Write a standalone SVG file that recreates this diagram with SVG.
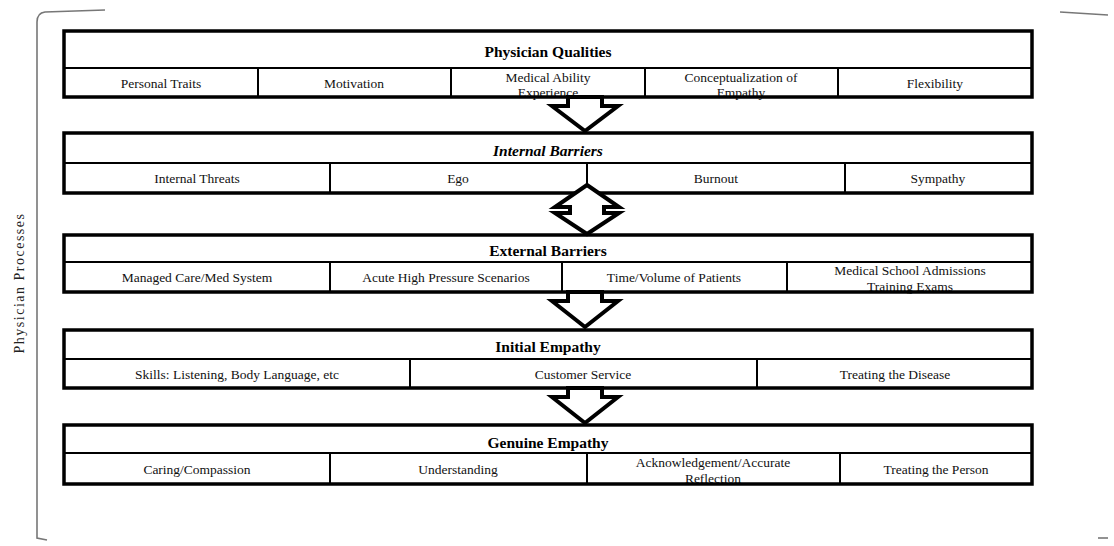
<svg xmlns="http://www.w3.org/2000/svg" width="1114" height="546" viewBox="0 0 1114 546">
  <style>
    .bg { fill: #fff; }
    .frame { fill: none; stroke: #000; stroke-width: 3.5; }
    .rule { stroke: #000; stroke-width: 2; fill: none; }
    .title { font-family: "Liberation Serif", serif; font-size: 15.5px; font-weight: bold; text-anchor: middle; fill: #000; }
    .item { font-family: "Liberation Serif", serif; font-size: 13.5px; text-anchor: middle; fill: #111; }
    .arrow { fill: #fff; stroke: #000; stroke-width: 4; stroke-linejoin: miter; }
    .bracket { fill: none; stroke: #777; stroke-width: 1.6; }
    .side { font-family: "Liberation Serif", serif; font-size: 14px; letter-spacing: 1.5px; text-anchor: middle; fill: #222; }
  </style>

  <rect width="1114" height="546" fill="#fff"/>

  <!-- outer bracket and side label -->
  <g id="processes">
    <path class="bracket" d="M105,10 L45,12 Q37,13 37,22 L37,538 L47,540"/>
    <path class="bracket" d="M1060,12 L1108,15"/>
    <path class="bracket" d="M1098,538 L1108,538"/>
    <text class="side" transform="translate(24,283) rotate(-90)">Physician Processes</text>
  </g>

  <!-- stage 1 -->
  <g id="physician-qualities">
    <rect class="bg" x="64" y="31" width="968" height="66"/>
    <text class="title" x="548" y="57">Physician Qualities</text>
    <text class="item" x="161" y="88">Personal Traits</text>
    <text class="item" x="354" y="88">Motivation</text>
    <text class="item" x="548" y="82">Medical Ability</text>
    <text class="item" x="548" y="97">Experience</text>
    <text class="item" x="741" y="82">Conceptualization of</text>
    <text class="item" x="741" y="97">Empathy</text>
    <text class="item" x="935" y="88">Flexibility</text>
    <path class="rule" d="M64,68 H1032 M258,68 V97 M451,68 V97 M645,68 V97 M838,68 V97"/>
    <rect class="frame" x="64" y="31" width="968" height="66"/>
  </g>

  <!-- stage 2 -->
  <g id="internal-barriers">
    <rect class="bg" x="64" y="133" width="968" height="60"/>
    <text class="title" x="548" y="156" font-style="italic">Internal Barriers</text>
    <text class="item" x="197" y="183">Internal Threats</text>
    <text class="item" x="458" y="183">Ego</text>
    <text class="item" x="716" y="183">Burnout</text>
    <text class="item" x="938" y="183">Sympathy</text>
    <path class="rule" d="M64,163 H1032 M330,163 V193 M587,163 V193 M845,163 V193"/>
    <rect class="frame" x="64" y="133" width="968" height="60"/>
  </g>

  <!-- stage 3 -->
  <g id="external-barriers">
    <rect class="bg" x="64" y="235" width="968" height="57"/>
    <text class="title" x="548" y="256">External Barriers</text>
    <text class="item" x="197" y="282">Managed Care/Med System</text>
    <text class="item" x="446" y="282">Acute High Pressure Scenarios</text>
    <text class="item" x="674" y="282">Time/Volume of Patients</text>
    <text class="item" x="910" y="275">Medical School Admissions</text>
    <text class="item" x="910" y="291">Training Exams</text>
    <path class="rule" d="M64,262 H1032 M330,262 V292 M562,262 V292 M787,262 V292"/>
    <rect class="frame" x="64" y="235" width="968" height="57"/>
  </g>

  <!-- stage 4 -->
  <g id="initial-empathy">
    <rect class="bg" x="64" y="330" width="968" height="58"/>
    <text class="title" x="548" y="352">Initial Empathy</text>
    <text class="item" x="237" y="379">Skills: Listening, Body Language, etc</text>
    <text class="item" x="583" y="379">Customer Service</text>
    <text class="item" x="895" y="379">Treating the Disease</text>
    <path class="rule" d="M64,359 H1032 M410,359 V388 M757,359 V388"/>
    <rect class="frame" x="64" y="330" width="968" height="58"/>
  </g>

  <!-- stage 5 -->
  <g id="genuine-empathy">
    <rect class="bg" x="64" y="425" width="968" height="59"/>
    <text class="title" x="548" y="448">Genuine Empathy</text>
    <text class="item" x="197" y="474">Caring/Compassion</text>
    <text class="item" x="458" y="474">Understanding</text>
    <text class="item" x="713" y="467">Acknowledgement/Accurate</text>
    <text class="item" x="713" y="483">Reflection</text>
    <text class="item" x="936" y="474">Treating the Person</text>
    <path class="rule" d="M64,453 H1032 M330,453 V484 M587,453 V484 M840,453 V484"/>
    <rect class="frame" x="64" y="425" width="968" height="59"/>
  </g>

  <!-- block arrows between stages -->
  <g id="connectors">
    <polygon class="arrow" points="568,97 602,97 602,106 618,106 585,131 552,106 568,106"/>
    <polygon class="arrow" points="587,185 619,207 604,207 604,213 619,213 587,234 555,213 570,213 570,207 555,207"/>
    <polygon class="arrow" points="568,292 602,292 602,301 618,301 585,327 552,301 568,301"/>
    <polygon class="arrow" points="568,388 602,388 602,397 618,397 585,423 552,397 568,397"/>
  </g>
</svg>
